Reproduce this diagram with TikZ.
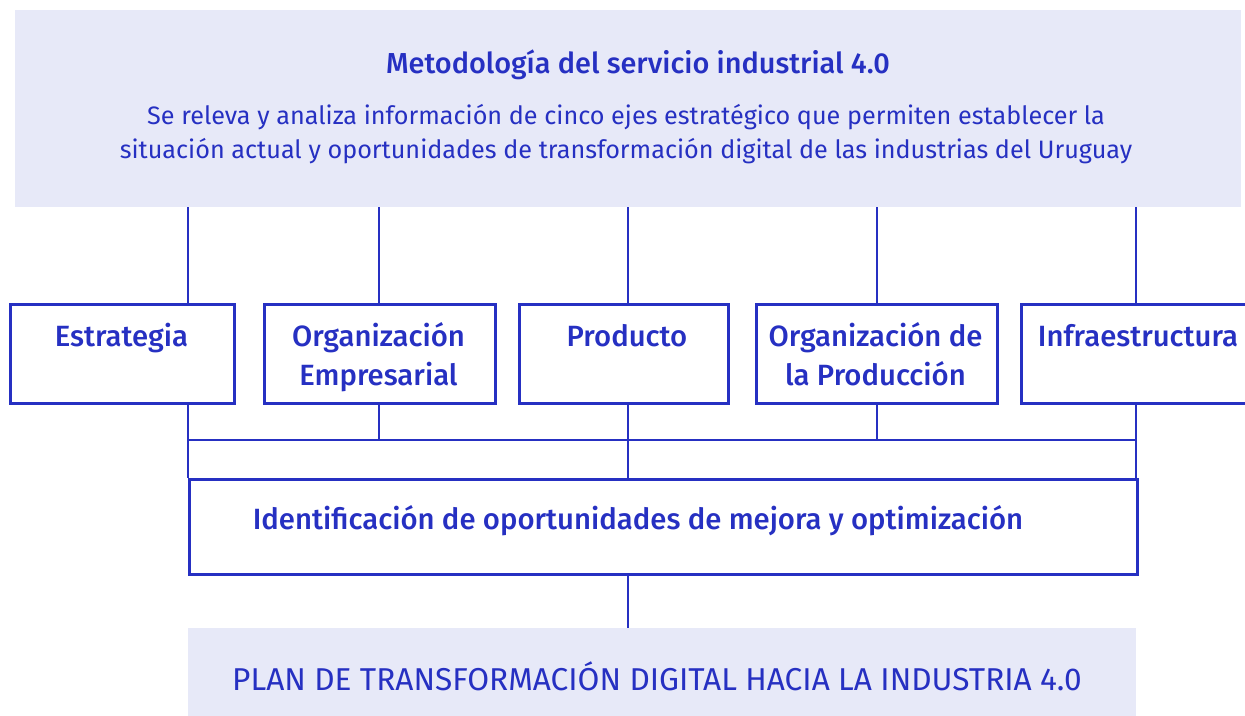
\documentclass[tikz,border=0pt]{standalone}
\usepackage{fontspec}
\setmainfont{Fira Sans}[BoldFont={Fira Sans Medium}]
\definecolor{bl}{HTML}{2630C2}
\definecolor{lf}{HTML}{E7E9F8}
\tikzset{
  ln/.style={draw=bl, line width=2.7pt},
  pane/.style={fill=lf, draw=none, inner sep=0pt, anchor=north west},
  ebox/.style={draw=bl, line width=2.7pt, fill=white, inner sep=0pt, anchor=north west},
  txt/.style={text=bl, inner sep=0pt, anchor=base},
  lab/.style={txt, font=\fontsize{29.3}{39}\selectfont\bfseries},
}
\begin{document}
\begin{tikzpicture}[x=1pt,y=-1pt]
\useasboundingbox (0,0) rectangle (1245,715);
\clip (0,0) rectangle (1245,715);
% panes
\node[pane, minimum width=1226pt, minimum height=197pt] (top) at (15,10) {};
\node[txt, font=\fontsize{28.9}{34}\selectfont\bfseries] (title) at (638,73)
  {Metodología del servicio industrial 4.0};
\node[txt, font=\fontsize{25.2}{34}\selectfont] (body1) at (626,124)
  {Se releva y analiza información de cinco ejes estratégico que permiten establecer la};
\node[txt, font=\fontsize{25.2}{34}\selectfont] (body2) at (626,158)
  {situación actual y oportunidades de transformación digital de las industrias del Uruguay};
\node[pane, minimum width=948pt, minimum height=90pt] (plan) at (188,628) {};
\node[txt, font=\fontsize{31.6}{34}\selectfont] (plantext) at (657,690)
  {PLAN DE TRANSFORMACIÓN DIGITAL HACIA LA INDUSTRIA 4.0};
% axis coordinates
\coordinate (x1) at (188,0);
\coordinate (x2) at (379,0);
\coordinate (x3) at (628,0);
\coordinate (x4) at (877,0);
\coordinate (x5) at (1136,0);
\coordinate (bus) at (0,440);
% five boxes
\node[ebox, minimum width=224pt, minimum height=99pt] (b1) at (9,303) {};
\node[ebox, minimum width=231pt, minimum height=99pt] (b2) at (263,303) {};
\node[ebox, minimum width=209pt, minimum height=99pt] (b3) at (518,303) {};
\node[ebox, minimum width=241pt, minimum height=99pt] (b4) at (755,303) {};
\node[ebox, minimum width=240pt, minimum height=99pt] (b5) at (1020,303) {};
\node[lab] (t1) at (121.5,346) {Estrategia};
\node[lab] (t2) at (378.5,346) {Organización};
\node[lab] (t2b) at (378.5,385) {Empresarial};
\node[lab] (t3) at (627,346) {Producto};
\node[lab] (t4) at (875.5,346) {Organización de};
\node[lab] (t4b) at (875.5,385) {la Producción};
\node[lab] (t5) at (1138,346) {Infraestructura};
% identification box
\node[ebox, minimum width=948pt, minimum height=95pt] (ident) at (188,478) {};
\node[lab] (identtext) at (638,529)
  {Identificación de oportunidades de mejora y optimización};
% connectors top
\foreach \c/\b in {x1/b1,x2/b2,x3/b3,x4/b4,x5/b5}
  \draw[ln] (top.south -| \c) -- (\b.north -| \c);
% bus
\draw[ln] (b1.south -| x1) -- (ident.north -| x1);
\draw[ln] (b5.south -| x5) -- (ident.north -| x5);
\draw[ln] (b3.south -| x3) -- (ident.north -| x3);
\draw[ln] (b2.south -| x2) -- (bus -| x2);
\draw[ln] (b4.south -| x4) -- (bus -| x4);
\draw[ln] (bus -| x1) -- (bus -| x5);
\draw[ln] (ident.south -| x3) -- (plan.north -| x3);
\end{tikzpicture}
\end{document}
